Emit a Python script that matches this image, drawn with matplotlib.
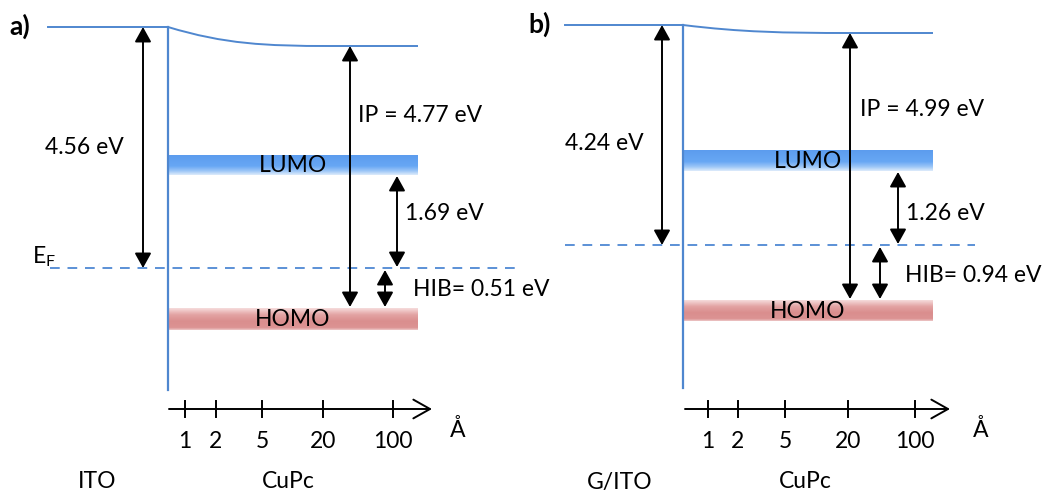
import numpy as np
import matplotlib
matplotlib.use("Agg")
import matplotlib.pyplot as plt
from matplotlib.path import Path
from matplotlib.patches import PathPatch
from matplotlib.colors import to_rgb

plt.rcParams['font.family'] = ['Lato', 'DejaVu Sans']

# ---- data (labels / values) ----
panel_tags = ['a)', 'b)']
substrates = ['ITO', 'G/ITO']
wf_labels = ['4.56 eV', '4.24 eV']
ip_labels = ['IP = 4.77 eV', 'IP = 4.99 eV']
gap_labels = ['1.69 eV', '1.26 eV']
hib_labels = ['HIB= 0.51 eV', 'HIB= 0.94 eV']
thickness_labels = ['1', '2', '5', '20', '100']
organic = 'CuPc'

# ---- level positions (pixel units, y down) ----
vac_left = [27, 25]
vac_right = [46, 33]
fermi = [268, 245]
lumo_top = [155, 150]
lumo_bot = [175, 171]
homo_top = [308, 300]
homo_bot = [330, 321]

# ---- layout per panel ----
layouts = [
    dict(tag=(9, 26), left=48, iface=168, iface_bot=390, bar_r=418, flat_x=330,
         ef_x=(50, 515), wf_x=143, ip_x=350, gap_x=397, hib_x=385,
         wf_lab=(45, 147), ip_lab=(358, 115), gap_lab=(405, 214), hib_lab=(413, 290),
         ticks=[185, 216, 262, 323, 393], axis_x=(169, 432), ang=(450, 430),
         sub_x=97, org_x=288, ef_lab=True),
    dict(tag=(528, 24), left=565, iface=683, iface_bot=388, bar_r=933, flat_x=850,
         ef_x=(565, 975), wf_x=662, ip_x=850, gap_x=898, hib_x=880,
         wf_lab=(565, 143), ip_lab=(860, 110), gap_lab=(906, 214), hib_lab=(905, 275),
         ticks=[708, 738, 785, 848, 915], axis_x=(685, 950), ang=(973, 430),
         sub_x=620, org_x=805, ef_lab=False),
]

BLUE = '#4F87CF'
DASH = '#5B90D6'
FS = 16.5

fig = plt.figure(figsize=(10.5, 4.95), dpi=100)
ax = fig.add_axes([0, 0, 1, 1])
ax.set_xlim(0, 1050)
ax.set_ylim(495, 0)
ax.axis('off')


def gradient(x0, x1, ytop, ybot, stops):
    n = 60
    t = np.linspace(0, 1, n)
    pos = [s[0] for s in stops]
    cols = np.array([to_rgb(s[1]) for s in stops])
    img = np.stack([np.interp(t, pos, cols[:, k]) for k in range(3)], axis=-1)
    img = img[:, None, :]
    ax.imshow(img, extent=(x0, x1, ybot, ytop), aspect='auto', origin='upper',
              interpolation='bilinear', zorder=1)


def darrow(x, y0, y1):
    ax.annotate('', xy=(x, y1), xytext=(x, y0),
                arrowprops=dict(arrowstyle='<|-|>,head_length=0.45,head_width=0.25',
                                color='black', lw=1.4, shrinkA=0, shrinkB=0,
                                mutation_scale=20), zorder=5)


for i, L in enumerate(layouts):
    # panel tag
    ax.text(L['tag'][0], L['tag'][1], panel_tags[i], fontsize=19, fontweight='bold',
            va='center', ha='left')
    # vacuum level (substrate side)
    ax.plot([L['left'], L['iface']], [vac_left[i], vac_left[i]], color=BLUE, lw=1.4, zorder=3)
    # band bending in organic
    x0, y0 = L['iface'], vac_left[i]
    x3, y3 = L['flat_x'], vac_right[i]
    dx = x3 - x0
    verts = [(x0, y0), (x0 + 0.35 * dx, y3 - 0.1 * (y3 - y0)), (x0 + 0.6 * dx, y3), (x3, y3),
             (L['bar_r'], y3)]
    codes = [Path.MOVETO, Path.CURVE4, Path.CURVE4, Path.CURVE4, Path.LINETO]
    ax.add_patch(PathPatch(Path(verts, codes), fill=False, edgecolor=BLUE, lw=1.4, zorder=3))
    # interface line
    ax.plot([L['iface'], L['iface']], [vac_left[i], L['iface_bot']], color=BLUE, lw=1.6, zorder=3)
    # Fermi level
    ax.plot(list(L['ef_x']), [fermi[i], fermi[i]], color=DASH, lw=1.4,
            dashes=(5, 4), zorder=2)
    if L['ef_lab']:
        ax.text(32, 257, r'E$_\mathregular{F}$', fontsize=FS, va='center', ha='left')
    # LUMO / HOMO bars
    gradient(L['iface'] + 1, L['bar_r'], lumo_top[i], lumo_bot[i],
             [(0, '#5C9CEE'), (0.55, '#67A7F4'), (0.8, '#9CC6F7'), (1, '#DDEBFB')])
    gradient(L['iface'] + 1, L['bar_r'], homo_top[i], homo_bot[i],
             [(0, '#F6DCDC'), (0.3, '#E3A3A3'), (0.6, '#DA8E8E'), (0.9, '#DC9393'), (1, '#EDC7C7')])
    xc = (L['iface'] + L['bar_r']) / 2
    ax.text(xc, (lumo_top[i] + lumo_bot[i]) / 2 + 1, 'LUMO', fontsize=FS, ha='center', va='center', zorder=4)
    ax.text(xc, (homo_top[i] + homo_bot[i]) / 2 + 1, 'HOMO', fontsize=FS, ha='center', va='center', zorder=4)
    # arrows
    darrow(L['wf_x'], vac_left[i], fermi[i])
    darrow(L['ip_x'], vac_right[i], homo_top[i] - 1)
    darrow(L['gap_x'], lumo_bot[i] + 1, fermi[i] - 1)
    darrow(L['hib_x'], fermi[i] + 2, homo_top[i] - 1)
    # labels
    ax.text(*L['wf_lab'], wf_labels[i], fontsize=FS, va='center', ha='left')
    ax.text(*L['ip_lab'], ip_labels[i], fontsize=FS, va='center', ha='left')
    ax.text(*L['gap_lab'], gap_labels[i], fontsize=FS, va='center', ha='left')
    ax.text(*L['hib_lab'], hib_labels[i], fontsize=FS, va='center', ha='left')
    # thickness axis
    ya = 409
    ax.annotate('', xy=(L['axis_x'][1], ya), xytext=(L['axis_x'][0], ya),
                arrowprops=dict(arrowstyle='->,head_length=0.8,head_width=0.45', color='black',
                                lw=1.4, shrinkA=0, shrinkB=0, mutation_scale=15))
    for tx, tl in zip(L['ticks'], thickness_labels):
        ax.plot([tx, tx], [401, 417], color='black', lw=1.4)
        ax.text(tx, 442, tl, fontsize=FS, ha='center', va='center')
    ax.text(*L['ang'], 'Å', fontsize=FS, ha='left', va='center')
    ax.text(L['org_x'], 482, organic, fontsize=FS, ha='center', va='center')
    ax.text(L['sub_x'], 482, substrates[i], fontsize=FS, ha='center', va='center')

fig.savefig('out.png', dpi=100, facecolor='white')
